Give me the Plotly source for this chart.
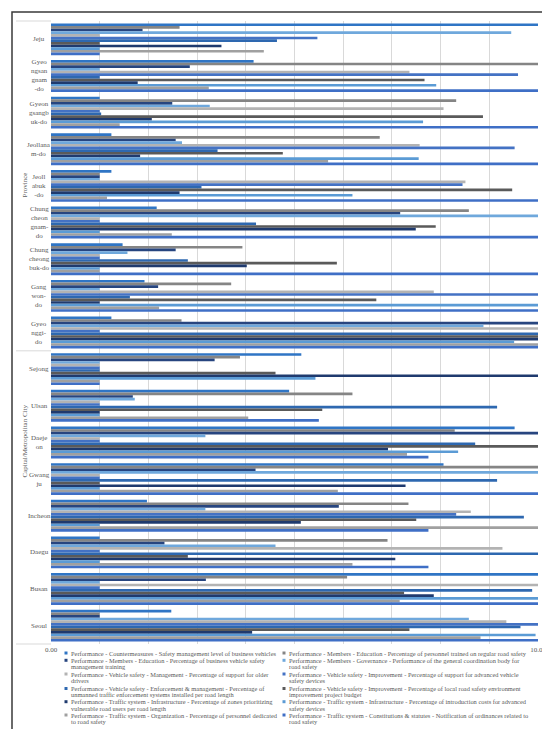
import plotly.graph_objects as go

# categories, top to bottom as drawn
regions = ["Jeju", "Gyeongsangnam-do", "Gyeongsangbuk-do", "Jeollanam-do", "Jeollabuk-do",
           "Chungcheongnam-do", "Chungcheongbuk-do", "Gangwon-do", "Gyeonggi-do",
           "Sejong", "Ulsan", "Daejeon", "Gwangju", "Incheon", "Daegu", "Busan", "Seoul"]
region_labels = ["Jeju", "Gyeo<br>ngsan<br>gnam<br>-do", "Gyeon<br>gsangb<br>uk-do", "Jeollana<br>m-do",
                 "Jeoll<br>abuk<br>-do", "Chung<br>cheon<br>gnam-<br>do", "Chung<br>cheong<br>buk-do",
                 "Gang<br>won-<br>do", "Gyeo<br>nggi-<br>do", "Sejong", "Ulsan", "Daeje<br>on",
                 "Gwang<br>ju", "Incheon", "Daegu", "Busan", "Seoul"]
group_names = ["Province", "Capital/Metropolitan City"]

series_names = [
    "Performance - Countermeasures - Safety management level of business vehicles",
    "Performance - Members - Education - Percentage of personnel trained on regular road safety",
    "Performance - Members - Education - Percentage of business vehicle safety<br>management training",
    "Performance - Members - Governance - Performance of the general coordination body for<br>road safety",
    "Performance - Vehicle safety - Management - Percentage of support for older<br>drivers",
    "Performance - Vehicle safety - Improvement - Percentage of support for advanced vehicle<br>safety devices",
    "Performance - Vehicle safety - Enforcement & management - Percentage of<br>unmanned traffic enforcement systems installed per road length",
    "Performance - Vehicle safety - Improvement - Percentage of local road safety environment<br>improvement project budget",
    "Performance - Traffic system - Infrastructure - Percentage of zones prioritizing<br>vulnerable road users per road length",
    "Performance - Traffic system - Infrastructure - Percentage of introduction costs for advanced<br>safety devices",
    "Performance - Traffic system - Organization - Percentage of personnel dedicated<br>to road safety",
    "Performance - Traffic system - Constitutions & statutes - Notification of ordinances related to<br>road safety",
]
colors = ["#2F75C5", "#858585", "#27457F", "#6FA8DC", "#B3B3B3", "#4472C4",
          "#2E68B0", "#5A5A5A", "#1F3A6E", "#5B9BD5", "#A0A0A0", "#3F6FC6"]

# values per region, one per series (series order as above)
jeju = [10, 2.64, 1.88, 9.45, 1.0, 5.47, 4.64, 1.0, 3.50, 1.0, 4.37, 1.0]
gyeongsangnam = [4.16, 10, 2.85, 1.0, 7.36, 9.59, 1.0, 7.67, 1.78, 7.91, 3.24, 10]
gyeongsangbuk = [1.0, 8.32, 2.49, 3.26, 8.06, 1.0, 1.03, 8.87, 2.07, 7.64, 1.41, 10]
jeollanam = [1.24, 6.75, 2.56, 2.69, 7.57, 9.52, 3.42, 4.76, 1.83, 7.55, 5.69, 10]
jeollabuk = [1.24, 1.0, 1.0, 1.0, 8.51, 8.45, 3.09, 9.47, 2.64, 6.19, 1.15, 10]
chungcheongnam = [2.17, 8.58, 7.17, 10, 1.0, 1.0, 4.21, 7.90, 7.49, 1.0, 2.48, 10]
chungcheongbuk = [1.47, 3.93, 2.56, 1.57, 1.0, 1.0, 2.81, 5.87, 4.02, 1.0, 1.0, 10]
gangwon = [1.92, 3.70, 2.20, 1.0, 7.86, 10, 1.62, 6.68, 1.0, 10, 2.22, 10]
gyeonggi = [1.24, 2.68, 10, 8.88, 10, 1.0, 10, 10, 10, 9.51, 10, 10]
sejong = [5.14, 3.88, 3.36, 1.0, 1.0, 1.0, 1.0, 4.61, 10, 5.43, 1.0, 1.0]
ulsan = [4.89, 6.19, 1.68, 1.72, 1.0, 1.0, 9.16, 5.57, 1.0, 1.0, 4.05, 5.50]
daejeon = [9.52, 8.29, 10, 3.17, 1.0, 1.0, 8.71, 10, 6.92, 8.36, 7.31, 7.75]
gwangju = [8.06, 10, 4.20, 10, 1.0, 1.0, 9.16, 1.0, 7.28, 1.0, 5.89, 10]
incheon = [1.97, 7.34, 5.91, 3.17, 8.62, 8.32, 9.71, 7.50, 5.13, 1.0, 10, 7.75]
daegu = [1.0, 6.91, 2.33, 4.61, 9.27, 1.0, 10, 2.81, 7.07, 1.0, 6.19, 7.75]
busan = [10, 6.08, 3.18, 1.0, 10, 1.0, 9.88, 7.25, 7.86, 10, 7.16, 10]
seoul = [2.47, 1.0, 1.0, 8.58, 9.35, 10, 9.64, 7.36, 4.13, 9.95, 8.82, 10]

region_values = [jeju, gyeongsangnam, gyeongsangbuk, jeollanam, jeollabuk, chungcheongnam,
                 chungcheongbuk, gangwon, gyeonggi, sejong, ulsan, daejeon, gwangju,
                 incheon, daegu, busan, seoul]

W, H = 550, 729
L, R, T, B = 43, 20, 13, 93
PW, PH = W - L - R, H - T - B
FONT = "Liberation Serif"
GREY = "#595959"


def px_x(x):
    return (x - L) / PW


def px_y(y):
    return (H - B - y) / PH


fig = go.Figure()
for i, name in enumerate(series_names):
    fig.add_trace(go.Bar(
        y=regions,
        x=[vals[i] for vals in region_values],
        orientation="h",
        name=name.replace("<br>", " "),
        marker=dict(color=colors[i], line=dict(width=0)),
        showlegend=False,
    ))

fig.update_layout(
    width=W, height=H,
    margin=dict(l=L, r=R, t=T, b=B),
    paper_bgcolor="white", plot_bgcolor="white",
    barmode="group", bargap=0.13, bargroupgap=0,
    font=dict(family=FONT, size=7, color=GREY),
    showlegend=False,
)
fig.update_xaxes(
    range=[0, 10], tickvals=list(range(11)),
    ticktext=["0.00"] + [""] * 9 + ["10.00"],
    showgrid=True, gridcolor="#D9D9D9", gridwidth=0.75,
    zeroline=False, showline=False, ticks="",
    tickfont=dict(family=FONT, size=7, color=GREY),
)
fig.update_yaxes(autorange="reversed", showticklabels=False, showgrid=False,
                 zeroline=False, ticks="")

# inner category labels
for reg, lab in zip(regions, region_labels):
    fig.add_annotation(x=px_x(31), xref="paper", y=reg, yref="y", text=lab,
                       showarrow=False, xanchor="center", yanchor="middle",
                       font=dict(family=FONT, size=7, color=GREY), borderpad=0)

# outer category labels
fig.add_annotation(x=px_x(10), xref="paper", y=px_y(163), yref="paper", text=group_names[0],
                   textangle=-90, showarrow=False, font=dict(family=FONT, size=7, color=GREY))
fig.add_annotation(x=px_x(10), xref="paper", y=px_y(472), yref="paper", text=group_names[1],
                   textangle=-90, showarrow=False, font=dict(family=FONT, size=7, color=GREY))

# category axis dividers
for yy in [1, 1 - 9 / 17, 0]:
    fig.add_shape(type="line", xref="paper", yref="paper", x0=px_x(8), x1=0, y0=yy, y1=yy,
                  line=dict(color="#D9D9D9", width=1))

# legend drawn by hand (two columns, row-major)
row_y = [645, 652.3, 666, 680.5, 693.7, 707]
col_x = [62, 280]
for i, name in enumerate(series_names):
    r, c = divmod(i, 2)
    y0 = row_y[r]
    mx = col_x[c] - 4
    fig.add_shape(type="rect", xref="paper", yref="paper",
                  x0=px_x(mx - 1.5), x1=px_x(mx + 1.5), y0=px_y(y0 + 1.5), y1=px_y(y0 - 1.5),
                  fillcolor=colors[i], line=dict(width=0))
    for k, line in enumerate(name.split("<br>")):
        fig.add_annotation(x=px_x(col_x[c]), xref="paper", y=px_y(y0 + k * 6.4), yref="paper",
                           text=line, showarrow=False, xanchor="left", yanchor="middle",
                           borderpad=0, font=dict(family=FONT, size=6.4, color=GREY))

# chart border
fig.add_shape(type="rect", xref="paper", yref="paper",
              x0=px_x(4), x1=px_x(545), y0=px_y(726), y1=px_y(4),
              line=dict(color="#3A3A3A", width=1.5), fillcolor="rgba(0,0,0,0)")

fig.write_html("out.html")
